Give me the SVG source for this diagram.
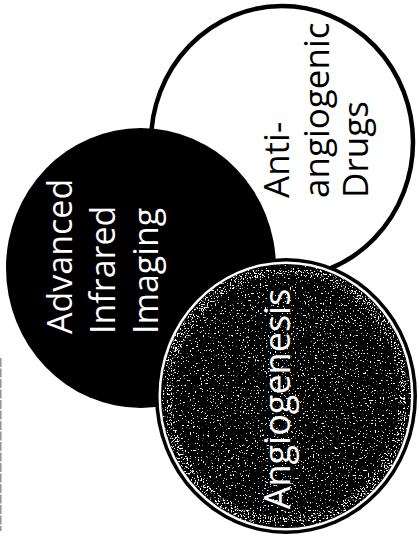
<svg xmlns="http://www.w3.org/2000/svg" width="419" height="538" viewBox="0 0 419 538">
  <style>
    .lbl { font-family: "Open Sans", "Noto Sans", "Liberation Sans", sans-serif; font-weight: 400; }
    .w { fill: #ffffff; }
    .k { fill: #000000; }
  </style>
  <defs>
    <filter id="speckle" x="0" y="0" width="100%" height="100%" color-interpolation-filters="sRGB">
      <feTurbulence type="fractalNoise" baseFrequency="0.6" numOctaves="3" seed="11" result="noise"/>
      <feColorMatrix in="noise" type="matrix" values="0 0 0 0 1  0 0 0 0 1  0 0 0 0 1  16 0 0 0 -10.6" result="dots"/>
      <feComposite in="dots" in2="SourceGraphic" operator="in" result="clipped"/>
      <feMerge>
        <feMergeNode in="SourceGraphic"/>
        <feMergeNode in="clipped"/>
      </feMerge>
    </filter>
    <filter id="edgespeckle" x="0" y="0" width="100%" height="100%" color-interpolation-filters="sRGB">
      <feTurbulence type="fractalNoise" baseFrequency="0.7" numOctaves="2" seed="4" result="noise"/>
      <feColorMatrix in="noise" type="matrix" values="0 0 0 0 1  0 0 0 0 1  0 0 0 0 1  16 0 0 0 -9.4" result="dots"/>
      <feComposite in="dots" in2="SourceGraphic" operator="in"/>
    </filter>
  </defs>
  <rect width="419" height="538" fill="#ffffff"/>
  <line x1="0.8" y1="358" x2="0.8" y2="531" stroke="#8a8a8a" stroke-width="1.4" stroke-dasharray="9 1.5"/>

  <g id="node-drugs">
    <ellipse cx="282" cy="142" rx="131" ry="136" fill="#ffffff" stroke="#000000" stroke-width="4.5"/>
    <text class="lbl k" font-size="35" transform="rotate(-90)">
      <tspan x="-198" y="289">Anti-</tspan>
      <tspan x="-198" y="329">angiogenic</tspan>
      <tspan x="-198" y="368">Drugs</tspan>
    </text>
  </g>

  <g id="node-imaging">
    <ellipse cx="141" cy="268" rx="135" ry="140" fill="#000000"/>
    <text class="lbl w" font-size="34" transform="rotate(-90)">
      <tspan x="-334" y="72">Advanced</tspan>
      <tspan x="-334" y="115">Infrared</tspan>
      <tspan x="-334" y="158">Imaging</tspan>
    </text>
  </g>

  <g id="node-angiogenesis">
    <ellipse cx="286" cy="396" rx="131" ry="138" fill="#000000"/>
    <ellipse cx="286" cy="396" rx="127.5" ry="134.5" fill="#ffffff"/>
    <ellipse cx="286" cy="396" rx="125" ry="132" fill="#000000" filter="url(#speckle)"/>
    <ellipse cx="286" cy="396" rx="119" ry="126" fill="none" stroke="#000000" stroke-width="10" filter="url(#edgespeckle)"/>
    <text class="lbl w" font-size="36" text-anchor="middle" transform="rotate(-90)" x="-399" y="290">Angiogenesis</text>
  </g>

  <g id="connectors"></g>
</svg>
